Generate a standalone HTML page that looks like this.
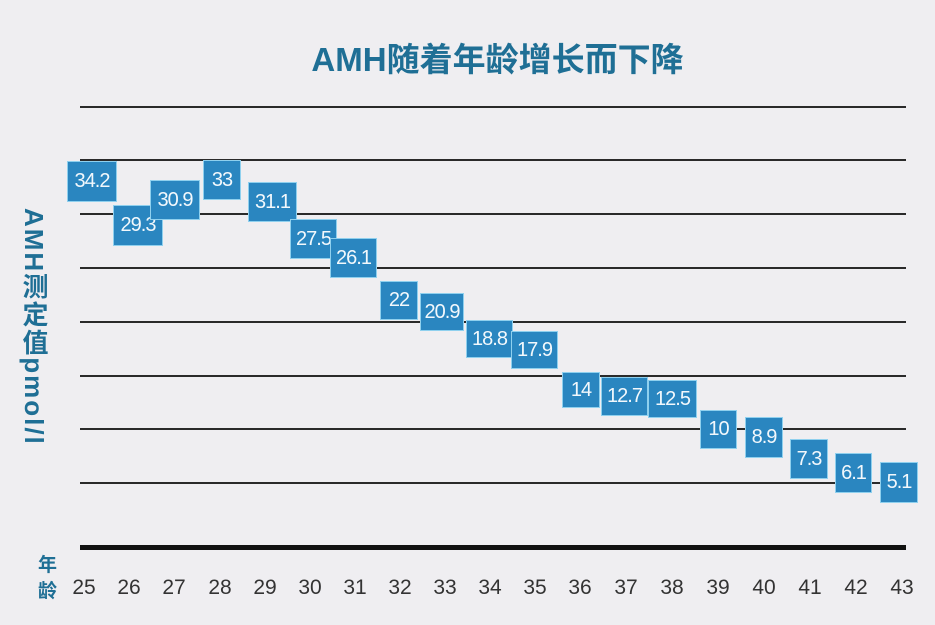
<!DOCTYPE html>
<html><head><meta charset="utf-8"><style>
body{margin:0;width:935px;height:625px;background:#efeef1;position:relative;overflow:hidden;font-family:"Liberation Sans","Noto Sans CJK SC",sans-serif}
.t{position:absolute;left:0;width:935px;top:33px;text-align:center;font-size:33px;font-weight:bold;color:#1f6f95;padding-left:60px;box-sizing:border-box}
.g{position:absolute;left:80px;width:826px;height:2px;background:#2a2a2a}
.b{position:absolute;background:#2a86c0;color:#f2f8fc;font-size:20px;display:flex;align-items:center;justify-content:center;border:1px solid #8fd0ee;box-sizing:border-box;letter-spacing:-1px}
.x{position:absolute;top:576px;font-size:21px;color:#333;width:40px;text-align:center;margin-left:-20px}
.y{position:absolute;left:16px;top:208px;writing-mode:vertical-rl;font-size:26px;font-weight:bold;color:#1f6f95;letter-spacing:2px}
</style></head><body>
<div class="t">AMH随着年龄增长而下降</div>
<div class="g" style="top:106px"></div><div class="g" style="top:159px"></div><div class="g" style="top:213px"></div><div class="g" style="top:267px"></div><div class="g" style="top:321px"></div><div class="g" style="top:375px"></div><div class="g" style="top:428px"></div><div class="g" style="top:482px"></div>
<div class="g" style="top:545px;height:5px;background:#111"></div>
<div class="y">AMH测定值pmol/l</div>
<div style="position:absolute;left:38px;top:553px;font-size:19px;font-weight:bold;color:#1f6f95;line-height:26px">年<br>龄</div>
<div class="b" style="left:67px;top:161px;width:50px;height:41px">34.2</div>
<div class="b" style="left:113px;top:205px;width:50px;height:41px">29.3</div>
<div class="b" style="left:150px;top:180px;width:50px;height:40px">30.9</div>
<div class="b" style="left:203px;top:160px;width:38px;height:40px">33</div>
<div class="b" style="left:248px;top:182px;width:49px;height:40px">31.1</div>
<div class="b" style="left:290px;top:219px;width:47px;height:40px">27.5</div>
<div class="b" style="left:330px;top:238px;width:47px;height:40px">26.1</div>
<div class="b" style="left:380px;top:281px;width:38px;height:39px">22</div>
<div class="b" style="left:420px;top:293px;width:44px;height:38px">20.9</div>
<div class="b" style="left:466px;top:320px;width:47px;height:38px">18.8</div>
<div class="b" style="left:511px;top:331px;width:47px;height:38px">17.9</div>
<div class="b" style="left:562px;top:372px;width:38px;height:36px">14</div>
<div class="b" style="left:601px;top:377px;width:47px;height:39px">12.7</div>
<div class="b" style="left:648px;top:380px;width:49px;height:38px">12.5</div>
<div class="b" style="left:700px;top:410px;width:37px;height:39px">10</div>
<div class="b" style="left:745px;top:417px;width:38px;height:41px">8.9</div>
<div class="b" style="left:790px;top:439px;width:38px;height:40px">7.3</div>
<div class="b" style="left:835px;top:453px;width:37px;height:40px">6.1</div>
<div class="b" style="left:880px;top:462px;width:38px;height:41px">5.1</div>
<div class="x" style="left:84px">25</div><div class="x" style="left:129px">26</div><div class="x" style="left:174px">27</div><div class="x" style="left:220px">28</div><div class="x" style="left:265px">29</div><div class="x" style="left:310px">30</div><div class="x" style="left:355px">31</div><div class="x" style="left:400px">32</div><div class="x" style="left:445px">33</div><div class="x" style="left:490px">34</div><div class="x" style="left:535px">35</div><div class="x" style="left:580px">36</div><div class="x" style="left:626px">37</div><div class="x" style="left:672px">38</div><div class="x" style="left:718px">39</div><div class="x" style="left:764px">40</div><div class="x" style="left:810px">41</div><div class="x" style="left:856px">42</div><div class="x" style="left:902px">43</div>
</body></html>
